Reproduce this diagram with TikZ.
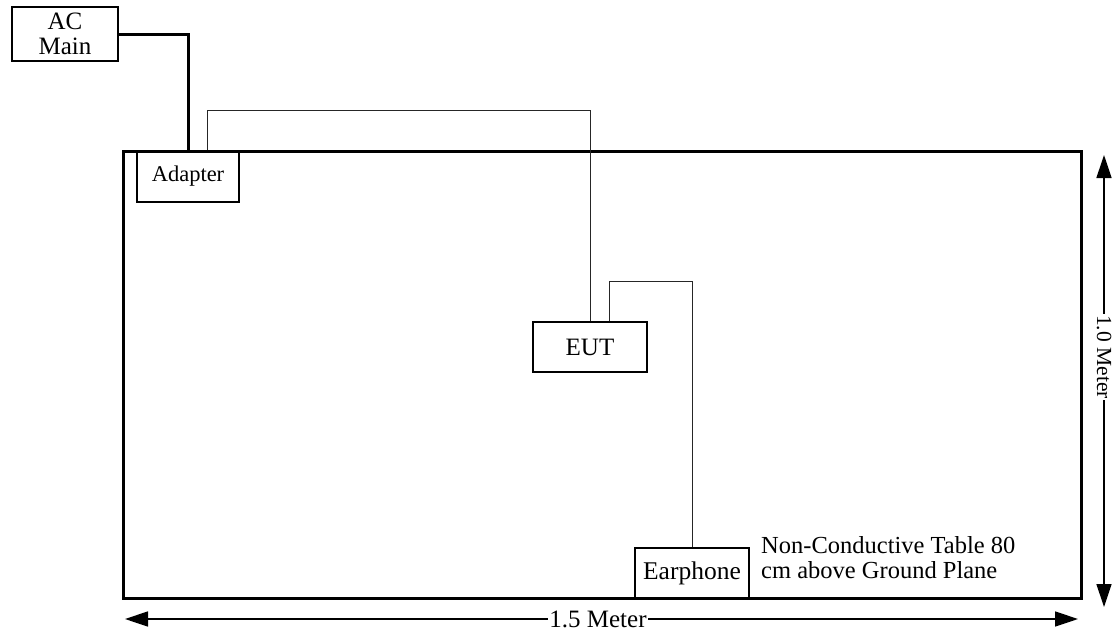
\documentclass[tikz,border=0pt]{standalone}
\usepackage{fontspec}
\setmainfont{Liberation Serif}
\usetikzlibrary{arrows.meta}
\begin{document}
\begin{tikzpicture}[x=1pt,y=-1pt,
  box/.style={draw=black,line width=1.3pt,inner sep=0pt,font=\fontsize{25}{25}\selectfont},
  thin/.style={draw=black!85,line width=0.9pt},
  thick/.style={draw=black,line width=3pt},
  dim/.style={draw=black,line width=1.5pt,{Triangle[length=23pt,width=15pt]}-{Triangle[length=23pt,width=15pt]}},
  dimlabel/.style={fill=white,inner sep=1pt,font=\fontsize{25}{25}\selectfont}]
\useasboundingbox[fill=white] (0,0) rectangle (1113,632);
% boxes
\node[box,minimum width=106pt,minimum height=54pt,align=center] (ac) at (65,34) {AC\\Main};
\node[box,minimum width=102pt,minimum height=51pt,font=\fontsize{22.5}{25}\selectfont] (adapter) at (188,176.5) {Adapter};
\node[box,minimum width=114pt,minimum height=50pt] (eut) at (590,347) {EUT};
\node[box,minimum width=114pt,minimum height=51pt,font=\fontsize{25.5}{25}\selectfont] (earphone) at (692,573.5) {Earphone};
% table
\node[thick,minimum width=958pt,minimum height=447pt,inner sep=0pt] (table) at (602,374.5) {};
\node[anchor=north west,inner sep=0pt,align=left,font=\fontsize{24.5}{25}\selectfont] (label) at (761,536) {Non-Conductive Table 80\\cm above Ground Plane};
% cables
\draw[thick,line cap=rect] (ac.east) -| (adapter.north);
\coordinate (c1) at (207,110);
\coordinate (c2) at (609,281);
\draw[thin] (adapter.north -| c1) -- (c1) -| (eut.north);
\draw[thin] (eut.north -| c2) -- (c2) -| (earphone.north);
% dimensions
\coordinate (v1) at (1104,155);
\coordinate (v2) at (1104,607);
\coordinate (h1) at (125,619);
\coordinate (h2) at (1078,619);
\draw[dim] (v1) -- (v2);
\draw[dim] (h1) -- (h2);
\node[dimlabel,rotate=-90,font=\fontsize{21.5}{25}\selectfont] (vl) at (1104,357) {1.0 Meter};
\node[dimlabel] (hl) at (598,619) {1.5 Meter};
\end{tikzpicture}
\end{document}
